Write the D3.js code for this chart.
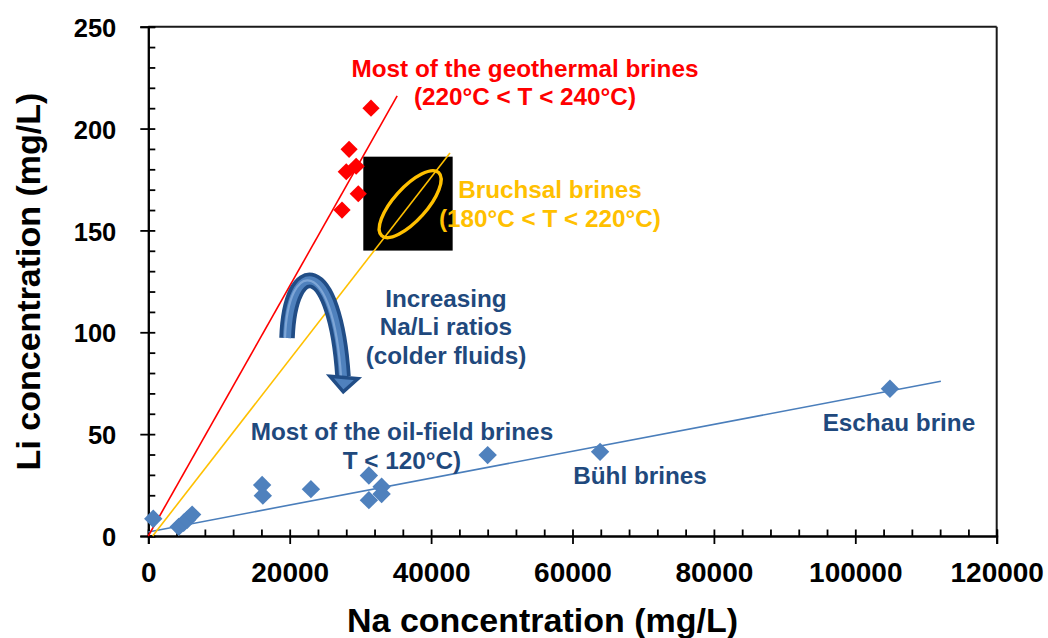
<!DOCTYPE html>
<html><head><meta charset="utf-8">
<script src="https://cdn.jsdelivr.net/npm/d3@7"></script>
<style>
body{margin:0;background:#fff;}
svg{display:block;font-family:"Liberation Sans",Arial,sans-serif;font-weight:bold;}
</style>
</head><body>
<svg id="chart" width="1048" height="638"></svg>
<script>
// ---------- data ----------
const geoNa = [31500, 28400, 29400, 28000, 29700, 27400];
const geoLi = [210, 189.8, 181.5, 178.8, 168, 160];

const oilNa = [700, 4300, 5000, 5500, 6200, 16100, 16200, 23000, 31200, 31200, 33000, 33000, 48000, 63900, 104900];
const oilLi = [8.5, 4.5, 6.5, 8, 10.5, 25, 19.8, 23, 29.7, 17.6, 24.2, 20.6, 39.7, 41.3, 72.3];

const geoTrendNa = [0, 35200];
const geoTrendLi = [0, 216];
const bruchsalTrendNa = [620, 42670];
const bruchsalTrendLi = [0, 188];
const oilTrendNa = [0, 112100];
const oilTrendLi = [2, 76];

const xMajorTicks = [0, 20000, 40000, 60000, 80000, 100000, 120000];
const xTickLabels = ["0", "20000", "40000", "60000", "80000", "100000", "120000"];
const yMajorTicks = [0, 50, 100, 150, 200, 250];
const yTickLabels = ["0", "50", "100", "150", "200", "250"];

const xTitle = "Na concentration (mg/L)";
const yTitle = "Li concentration (mg/L)";

const noteGeo = ["Most of the geothermal brines", "(220°C < T < 240°C)"];
const noteBruchsal = ["Bruchsal brines", "(180°C < T < 220°C)"];
const noteRatio = ["Increasing", "Na/Li ratios", "(colder fluids)"];
const noteOil = ["Most of the oil-field brines", "T < 120°C)"];
const noteBuhl = ["Bühl brines"];
const noteEschau = ["Eschau brine"];

// ---------- layout ----------
const M = {left: 148.3, right: 996.7, top: 26.7, bottom: 536};
const svg = d3.select("#chart");
const x = d3.scaleLinear().domain([0, 120000]).range([M.left, M.right]);
const y = d3.scaleLinear().domain([0, 250]).range([M.bottom, M.top]);

const RED = "#FF0000", ORANGE = "#FFC000", BLUE = "#4F81BD", NAVY = "#1F497D";

// black inset box with ellipse (Bruchsal)
svg.append("rect")
  .attr("x", x(30410)).attr("y", y(186.2))
  .attr("width", x(43050) - x(30410)).attr("height", y(140.1) - y(186.2))
  .attr("fill", "#000");
svg.append("ellipse")
  .attr("cx", 0).attr("cy", 0).attr("rx", 42.5).attr("ry", 16.5)
  .attr("transform", `translate(${x(37040)},${y(162.9)}) rotate(-48)`)
  .attr("fill", "none").attr("stroke", ORANGE).attr("stroke-width", 3.4);

// frame
const frame = svg.append("g").attr("stroke-width", 2).attr("fill", "none");
frame.append("line").attr("x1", M.left).attr("x2", M.right).attr("y1", M.top).attr("y2", M.top).attr("stroke", "#1a1a1a");
frame.append("line").attr("x1", M.right).attr("x2", M.right).attr("y1", M.top).attr("y2", M.bottom).attr("stroke", "#1a1a1a");

// axes
const xMinor = d3.range(0, 120001, 4000);
const yMinor = d3.range(0, 251, 10);

const xOut = svg.append("g").attr("transform", `translate(0,${M.bottom})`)
  .call(d3.axisBottom(x).tickValues(xMajorTicks).tickSize(8).tickPadding(18)
    .tickFormat((d, i) => xTickLabels[i]));
const xIn = svg.append("g").attr("transform", `translate(0,${M.bottom})`)
  .call(d3.axisTop(x).tickValues(xMinor).tickSize(6.5).tickFormat(""));
const yOut = svg.append("g").attr("transform", `translate(${M.left},0)`)
  .call(d3.axisLeft(y).tickValues(yMajorTicks).tickSize(8).tickPadding(24)
    .tickFormat((d, i) => yTickLabels[i]));
const yIn = svg.append("g").attr("transform", `translate(${M.left},0)`)
  .call(d3.axisRight(y).tickValues(yMinor).tickSize(7).tickFormat(""));

[xOut, xIn, yOut, yIn].forEach(g => {
  g.selectAll("path.domain").attr("stroke", "#000").attr("stroke-width", 2);
  g.selectAll(".tick line").attr("stroke", "#000").attr("stroke-width", 1.8);
  g.attr("font-family", null).attr("font-size", null);
});
xOut.selectAll("text").attr("font-size", 28).attr("font-weight", "bold").attr("fill", "#000");
yOut.selectAll("text").attr("font-size", 25.5).attr("font-weight", "bold").attr("fill", "#000").attr("dy", "0.38em");

// axis titles
svg.append("text").attr("x", 542.5).attr("y", 631.5).attr("text-anchor", "middle")
  .attr("font-size", 34).attr("fill", "#000").text(xTitle);
svg.append("text").attr("transform", `translate(40,281.5) rotate(-90)`).attr("text-anchor", "middle")
  .attr("font-size", 34).attr("fill", "#000").text(yTitle);

// trend lines
function trend(naArr, liArr, color, w) {
  svg.append("line")
    .attr("x1", x(naArr[0])).attr("y1", y(liArr[0]))
    .attr("x2", x(naArr[1])).attr("y2", y(liArr[1]))
    .attr("stroke", color).attr("stroke-width", w);
}
trend(oilTrendNa, oilTrendLi, "#4A7EBB", 1.6);
trend(bruchsalTrendNa, bruchsalTrendLi, ORANGE, 1.6);
trend(geoTrendNa, geoTrendLi, RED, 1.6);

// diamonds
function diamond(r) { return `M0,${-r}L${r},0L0,${r}L${-r},0Z`; }
svg.append("g").selectAll("path").data(oilNa.map((d, i) => [d, oilLi[i]])).join("path")
  .attr("d", diamond(9.2)).attr("transform", d => `translate(${x(d[0])},${y(d[1])})`)
  .attr("fill", BLUE);
svg.append("g").selectAll("path").data(geoNa.map((d, i) => [d, geoLi[i]])).join("path")
  .attr("d", diamond(8.6)).attr("transform", d => `translate(${x(d[0])},${y(d[1])})`)
  .attr("fill", RED);

// curved arrow
const p = d3.path();
p.moveTo(x(19620), y(97.2));
p.bezierCurveTo(x(20040), y(137.6), x(26410), y(137.6), x(27540), y(78.3));
svg.append("path").attr("d", p.toString()).attr("fill", "none")
  .attr("stroke", "#214D86").attr("stroke-width", 15.5);
svg.append("path").attr("d", p.toString()).attr("fill", "none")
  .attr("stroke", "#4F81BD").attr("stroke-width", 8);
svg.append("path").attr("d", p.toString()).attr("fill", "none")
  .attr("stroke", "#7DA5D6").attr("stroke-width", 2.2).attr("transform", "translate(-2,0)");
const head = [[25700, 78.4], [29650, 77.2], [27580, 70.8]];
svg.append("path")
  .attr("d", "M" + head.map(d => [x(d[0]), y(d[1])].join(",")).join("L") + "Z")
  .attr("fill", "#4F81BD").attr("stroke", "#214D86").attr("stroke-width", 3.5).attr("stroke-linejoin", "miter");

// annotations
function note(lines, na, li, color, size) {
  const t = svg.append("text").attr("text-anchor", "middle").attr("font-size", size).attr("fill", color);
  lines.forEach((s, i) => {
    t.append("tspan").attr("x", x(na)).attr("y", y(li) + i * 28.3).text(s);
  });
}
note(noteGeo, 53280, 225.3, RED, 24.3);
note(noteBruchsal, 56810, 165.8, ORANGE, 24.3);
note(noteRatio, 42100, 112.4, NAVY, 24.3);
note(noteOil, 35880, 46.9, NAVY, 24.3);
note(noteBuhl, 69550, 25.5, NAVY, 24.3);
note(noteEschau, 106170, 51.5, NAVY, 24.3);
</script>
</body></html>
